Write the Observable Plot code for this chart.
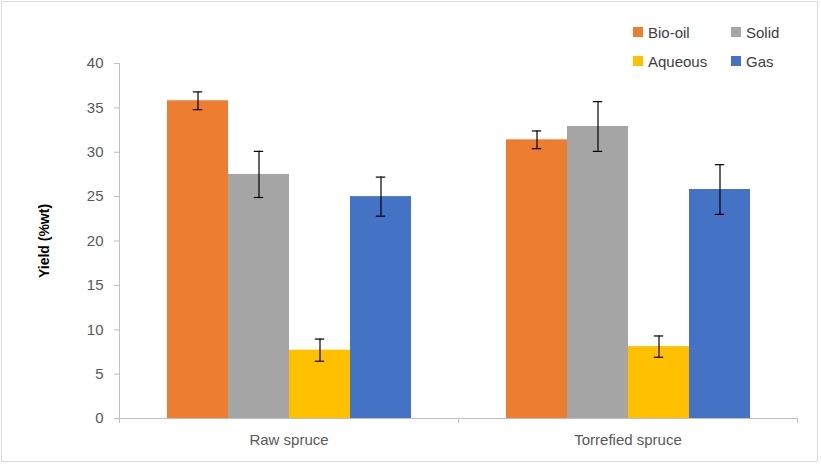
<!DOCTYPE html>
<html>
<head>
<meta charset="utf-8">
<script src="https://cdn.jsdelivr.net/npm/d3@7"></script>
<script src="https://cdn.jsdelivr.net/npm/@observablehq/plot@0.6"></script>
<style>
  body { margin: 0; background: #fff; }
  #wrap { position: relative; width: 821px; height: 465px; }
  #frame { position: absolute; left: 1px; top: 1px; width: 817px; height: 461px; border: 1px solid #d9d9d9; box-sizing: border-box; pointer-events: none; }
  #legend { position: absolute; left: 633px; top: 22px; display: grid; grid-template-columns: 98px 80px; row-gap: 9px; font-family: "Liberation Sans", Arial, sans-serif; font-size: 15px; color: #404040; }
  #legend div { display: flex; align-items: center; height: 20px; }
  #legend span.sw { display: inline-block; width: 10px; height: 10px; margin-right: 5px; }
  g[aria-label="y-axis label"] text { font-weight: bold; fill: #000; font-size: 14px; }
</style>
</head>
<body>
<div id="wrap"><div id="chart"></div><div id="legend"></div><div id="frame"></div></div>
<script>
const categories = ["Raw spruce", "Torrefied spruce"];
const series = ["Bio-oil", "Solid", "Aqueous", "Gas"];
const colors = ["#ED7D31", "#A5A5A5", "#FFC000", "#4472C4"];
const rawValues = [35.8, 27.5, 7.7, 25.0];
const rawErrors = [1.0, 2.6, 1.25, 2.2];
const torrefiedValues = [31.4, 32.9, 8.1, 25.8];
const torrefiedErrors = [1.0, 2.8, 1.2, 2.8];
const yTicks = [0, 5, 10, 15, 20, 25, 30, 35, 40];

const valueSets = [rawValues, torrefiedValues];
const errorSets = [rawErrors, torrefiedErrors];
const data = [];
categories.forEach((c, i) => series.forEach((s, j) => data.push({
  category: c, series: s, value: valueSets[i][j], err: errorSets[i][j]
})));

const plot = Plot.plot({
  width: 821,
  height: 465,
  marginLeft: 119,
  marginRight: 24,
  marginTop: 63,
  marginBottom: 47,
  style: { fontFamily: "Liberation Sans, Arial, sans-serif", fontSize: "15px", color: "#595959", background: "transparent" },
  fx: { domain: categories, paddingInner: 0, paddingOuter: 0, label: null },
  x: { domain: series, paddingInner: 0, paddingOuter: 0.74, axis: null },
  y: { domain: [0, 40], label: null },
  color: { domain: series, range: colors },
  marks: [
    Plot.barY(data, { fx: "category", x: "series", y: "value", fill: "series" }),
    Plot.ruleX(data, { fx: "category", x: "series", y1: d => d.value - d.err, y2: d => d.value + d.err, stroke: "#000", strokeWidth: 1.2 }),
    Plot.tickY(data, { fx: "category", x: "series", y: d => d.value - d.err, stroke: "#000", strokeWidth: 1.2, insetLeft: 25.8, insetRight: 25.8 }),
    Plot.tickY(data, { fx: "category", x: "series", y: d => d.value + d.err, stroke: "#000", strokeWidth: 1.2, insetLeft: 25.8, insetRight: 25.8 }),
    Plot.axisY({ ticks: yTicks, tickSize: 5, tickPadding: 11, stroke: "#bfbfbf", fill: "#595959", label: "Yield (%wt)", labelAnchor: "center", labelOffset: 80, labelArrow: false, fontSize: 15 }),
    Plot.axisFx({ anchor: "bottom", tickSize: 0, tickPadding: 16, label: null, fill: "#595959", fontSize: 15 }),
    Plot.ruleY([0], { stroke: "#bfbfbf" })
  ]
});

// y-axis line and x band boundary ticks
const svg = d3.select(plot);
const fxs = plot.scale("fx");
const [r0, r1] = fxs.range;
const yS = plot.scale("y");
const yBase = yS.range[0];
const yTop = yS.range[1];
svg.append("line").attr("x1", r0 + 0.5).attr("x2", r0 + 0.5).attr("y1", yTop).attr("y2", yBase).attr("stroke", "#bfbfbf");
for (let i = 0; i <= categories.length; i++) {
  const x = Math.round(r0 + i * (r1 - r0) / categories.length) + 0.5;
  svg.append("line").attr("x1", x).attr("x2", x).attr("y1", yBase).attr("y2", yBase + 5).attr("stroke", "#bfbfbf");
}
document.getElementById("chart").appendChild(plot);

const lg = document.getElementById("legend");
series.forEach((s, j) => {
  const d = document.createElement("div");
  d.innerHTML = `<span class="sw" style="background:${colors[j]}"></span>${s}`;
  lg.appendChild(d);
});
</script>
</body>
</html>
